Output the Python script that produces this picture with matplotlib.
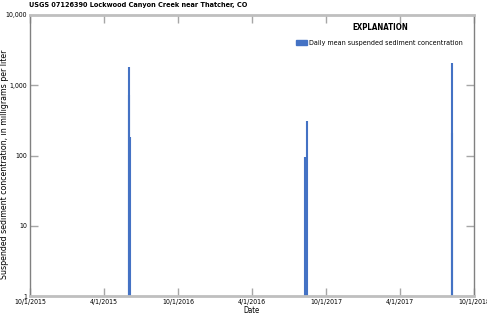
import numpy as np
import pandas as pd
import matplotlib.pyplot as plt
from matplotlib.patches import Patch

plt.rcParams['font.family'] = ['DejaVu Sans']
plt.rcParams['font.stretch'] = 'condensed'

# daily mean suspended sediment concentration (mg/L)
dates = pd.to_datetime(['2016-06-01', '2016-06-02', '2016-06-03',
                        '2017-08-10', '2017-08-16',
                        '2018-08-07', '2018-08-08'])
conc = [725, 1820, 183, 95, 310, 2050, 210]

tick_dates = pd.to_datetime(['2015-10-01', '2016-04-01', '2016-10-01', '2017-04-01',
                             '2017-10-01', '2018-04-01', '2018-10-01'])
tick_labels = ['10/1/2015', '4/1/2015', '10/1/2016', '4/1/2016',
               '10/1/2017', '4/1/2017', '10/1/2018']
y_ticks = [1, 10, 100, 1000, 10000]
y_labels = ['1', '10', '100', '1,000', '10,000']

fig = plt.figure(figsize=(4.87, 3.17), dpi=100)
ax = fig.add_axes([0.0616, 0.0662, 0.9117, 0.8865])

blue = '#4472c4'
ax.vlines(dates, 1, conc, color=blue, linewidth=1.5)

ax.set_yscale('log')
ax.set_ylim(1, 10000)
ax.set_xlim(tick_dates[0], tick_dates[-1])
ax.set_yticks(y_ticks)
ax.set_yticklabels(y_labels)
ax.yaxis.set_minor_locator(plt.NullLocator())
ax.set_xticks(tick_dates)
ax.set_xticklabels(tick_labels)

ax.tick_params(axis='both', direction='in', length=6, width=1, color='#a6a6a6',
               labelsize=5.0, pad=2, right=True, top=True)

for s in ['left', 'right']:
    ax.spines[s].set_color('#808080')
    ax.spines[s].set_linewidth(1)
for s in ['top', 'bottom']:
    ax.spines[s].set_color('#bfbfbf')
    ax.spines[s].set_linewidth(2)

ax.set_xlabel('Date', fontsize=5.5, labelpad=1)
ax.set_ylabel('Suspended sediment concentration, in milligrams per liter', fontsize=6.3)
ax.yaxis.set_label_coords(-0.047, 0.47)
fig.text(29 / 487, 1 - 2 / 317, 'USGS 07126390 Lockwood Canyon Creek near Thatcher, CO',
         fontsize=5.2, fontweight='bold', va='top', ha='left')

fig.text(380 / 487, 1 - 28 / 317, 'EXPLANATION', fontsize=5.7, fontweight='bold',
         ha='center', va='center')
ax.legend(handles=[Patch(color=blue, label='Daily mean suspended sediment concentration')],
          loc='upper right', bbox_to_anchor=(0.975, 0.911),
          frameon=False, fontsize=5.1, handlelength=1.5, handleheight=0.5,
          handletextpad=0.3, borderaxespad=0, borderpad=0)

fig.savefig('out.png', dpi=100)
